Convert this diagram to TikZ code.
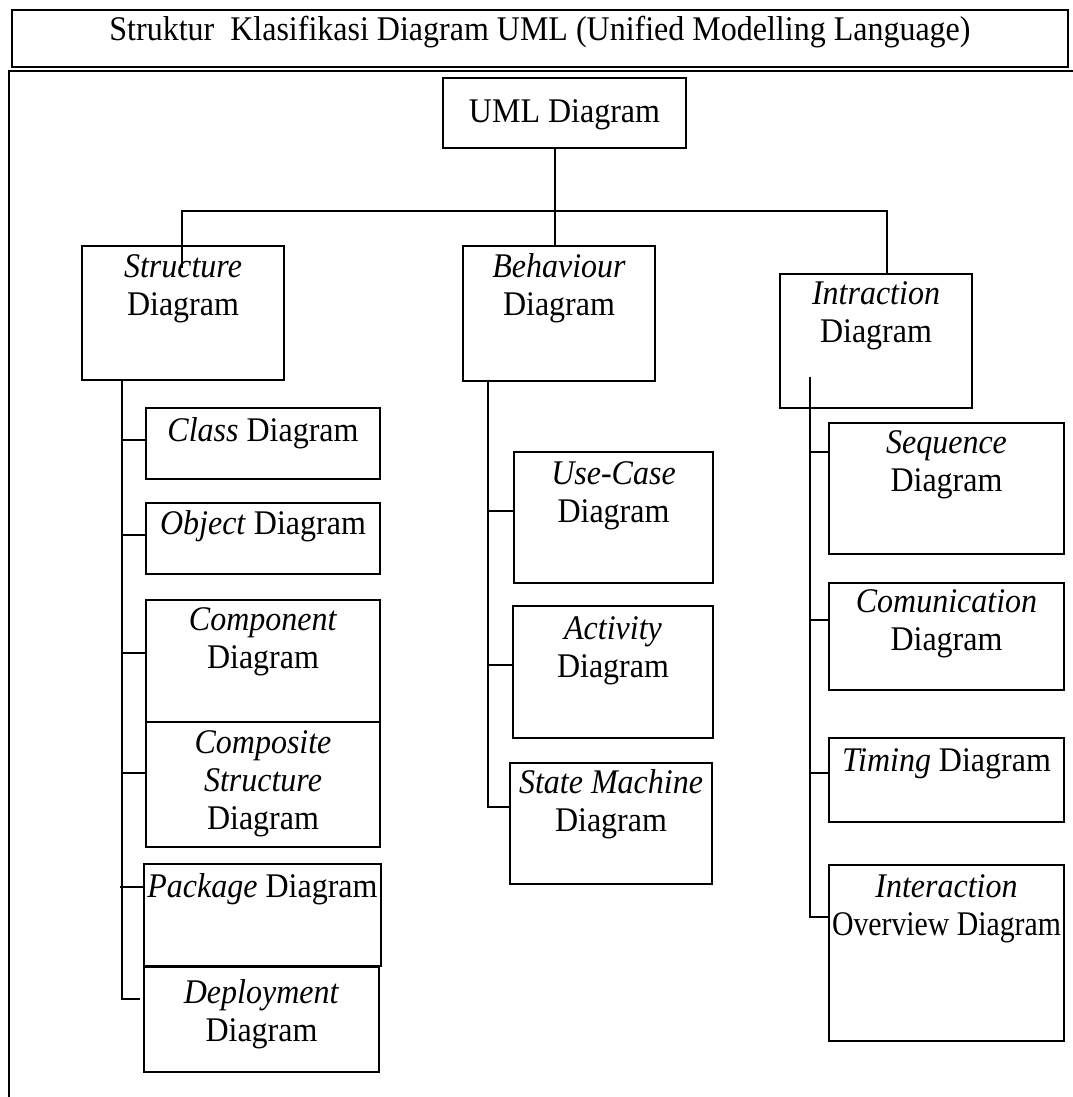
\documentclass[tikz,border=0pt]{standalone}
\usepackage{graphicx}
\usepackage{fontspec}
\setmainfont{Liberation Serif}
\newcommand\bxt[4]{\parbox[c][#2pt][t]{#1pt}{\centering\rule{0pt}{#3pt}#4}}
\newcommand\vs[1]{\scalebox{1}[1.08]{#1}}
\tikzset{
  umlbox/.style={draw, line width=1.3pt, inner sep=0pt, outer sep=0pt, anchor=north west,
                 font=\fontsize{32}{38}\selectfont},
  titlebox/.style={umlbox, line width=2.2pt},
  link/.style={line width=1.4pt},
  framel/.style={line width=1.6pt}
}
\begin{document}
\begin{tikzpicture}[x=1pt,y=-1pt]
\useasboundingbox (0,0) rectangle (1072,1097);
% title and frame
\node[titlebox] (title) at (12,10) {\bxt{1056}{57}{31}{\vs{Struktur\ \ Klasifikasi Diagram UML (Unified Modelling Language)}}};
\draw[line width=2.4pt] (9,71) -- (1074,71);
\draw[framel] (9,70) -- (9,1099);
% top level
\node[umlbox] (uml) at (443,78) {\bxt{243}{70}{45}{\vs{UML Diagram}}};
\node[umlbox] (str) at (82,246) {\bxt{202}{134}{31}{\vs{\textit{Structure}}\\\vs{Diagram}}};
\node[umlbox] (beh) at (463,246) {\bxt{192}{135}{31}{\vs{\textit{Behaviour}}\\\vs{Diagram}}};
\node[umlbox] (intr) at (780,274) {\bxt{192}{134}{30}{\vs{\textit{Intraction}}\\\vs{Diagram}}};
% structure column
\node[umlbox] (cls) at (146,408) {\bxt{234}{71}{33}{\vs{\textit{Class} Diagram}}};
\node[umlbox] (obj) at (146,503) {\bxt{234}{71}{31}{\vs{\textit{Object} Diagram}}};
\node[umlbox] (comp) at (146,600) {\bxt{234}{122}{30}{\vs{\textit{Component}}\\\vs{Diagram}}};
\node[umlbox] (compo) at (146,722) {\bxt{234}{125}{31}{\vs{\textit{Composite}}\\\vs{\textit{Structure}}\\\vs{Diagram}}};
\node[umlbox] (pkg) at (144,864) {\bxt{237}{102}{33}{\vs{\textit{Package} Diagram}}};
\node[umlbox] (dep) at (144,967) {\bxt{235}{105}{36}{\vs{\textit{Deployment}}\\\vs{Diagram}}};
% behaviour column
\node[umlbox] (uc) at (514,452) {\bxt{199}{131}{32}{\vs{\textit{Use-Case}}\\\vs{Diagram}}};
\node[umlbox] (act) at (513,606) {\bxt{200}{132}{33}{\vs{\textit{Activity}}\\\vs{Diagram}}};
\node[umlbox] (sm) at (510,763) {\bxt{202}{121}{30}{\vs{\textit{State Machine}}\\\vs{Diagram}}};
% interaction column
\node[umlbox] (seq) at (829,423) {\bxt{235}{131}{30}{\vs{\textit{Sequence}}\\\vs{Diagram}}};
\node[umlbox] (com) at (829,583) {\bxt{235}{107}{29}{\vs{\textit{Comunication}}\\\vs{Diagram}}};
\node[umlbox] (tim) at (829,738) {\bxt{235}{84}{33}{\vs{\textit{Timing} Diagram}}};
\node[umlbox] (io) at (829,865) {\bxt{235}{176}{32}{\vs{\textit{Interaction}}\\\scalebox{0.93}[1.08]{Overview Diagram}}};
% top connectors
\coordinate (stub) at (182,268);
\draw[link] (uml.south -| 555,0) -- (beh.north -| 555,0);
\draw[link] (stub) -- (182,211) -- (887,211) -- (intr.north -| 887,0);
% structure spine
\draw[link] (str.south -| 122,0) -- (122,999) -- ([xshift=-4pt]dep.west |- 0,999);
\foreach \n/\yy in {cls/440, obj/535, comp/653, compo/773}
  \draw[link] (122,\yy) -- (\n.west |- 0,\yy);
\draw[link] (120,887) -- (pkg.west |- 0,887);
% behaviour spine
\draw[link] (beh.south -| 488,0) -- (488,807) -- (sm.west |- 0,807);
\foreach \n/\yy in {uc/511, act/665}
  \draw[link] (488,\yy) -- (\n.west |- 0,\yy);
% interaction spine
\coordinate (ispine) at (810,377);
\draw[link] (ispine) -- (810,917) -- (io.west |- 0,917);
\foreach \n/\yy in {seq/452, com/620, tim/773}
  \draw[link] (810,\yy) -- (\n.west |- 0,\yy);
\end{tikzpicture}
\end{document}
